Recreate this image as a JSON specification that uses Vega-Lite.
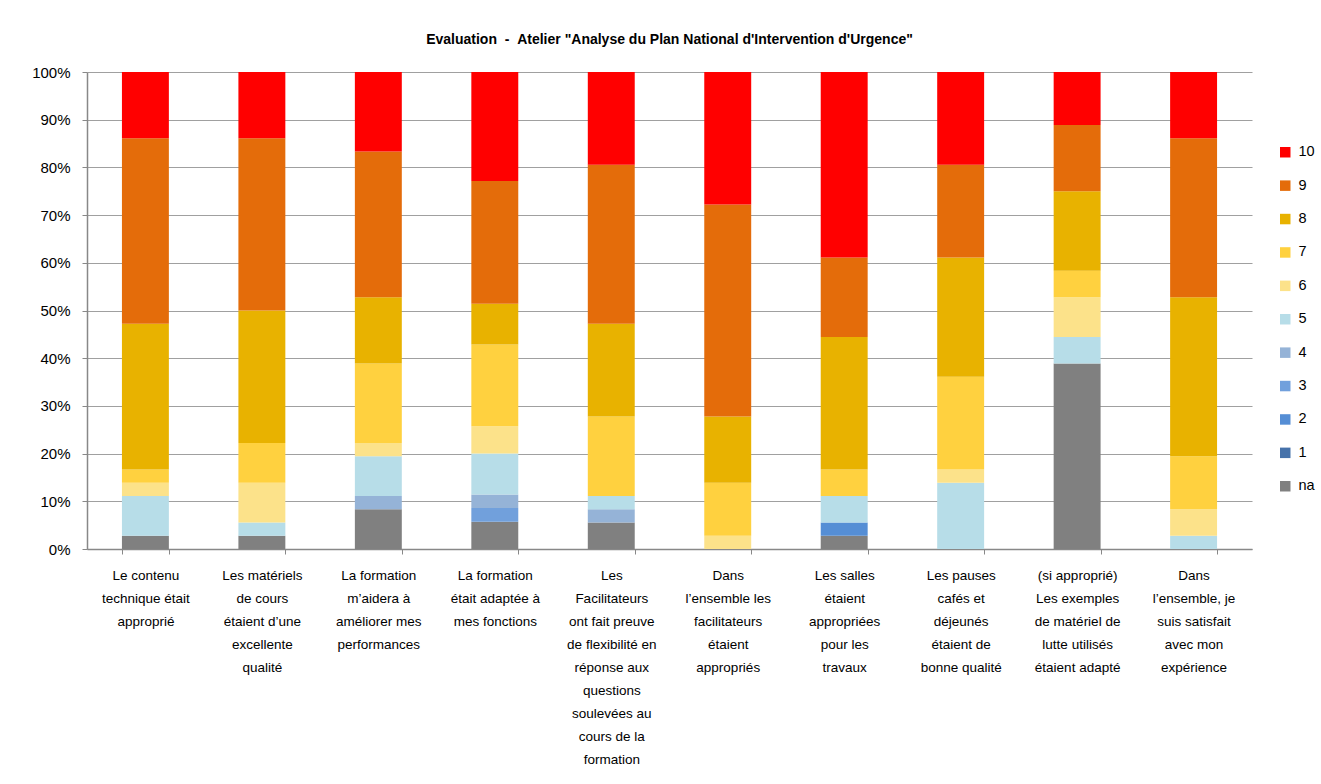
{
  "$schema": "https://vega.github.io/schema/vega-lite/v6.json",
  "autosize": {"type": "none"},
  "width": 1165,
  "height": 477,
  "padding": {"left": 87, "top": 72, "right": 69, "bottom": 235},
  "background": "white",
  "config": {
    "view": {"stroke": null},
    "font": "Liberation Sans"
  },
  "title": {
    "text": "Evaluation\u00a0\u00a0-\u00a0\u00a0Atelier \"Analyse du Plan National d'Intervention d'Urgence\"",
    "fontSize": 14,
    "fontWeight": "bold",
    "color": "#000000",
    "anchor": "middle",
    "offset": 18
  },
  "data": {
    "values": [
      {"q": "Le contenu|technique était|approprié", "s": 0, "n": 1},
      {"q": "Le contenu|technique était|approprié", "s": 5, "n": 3},
      {"q": "Le contenu|technique était|approprié", "s": 6, "n": 1},
      {"q": "Le contenu|technique était|approprié", "s": 7, "n": 1},
      {"q": "Le contenu|technique était|approprié", "s": 8, "n": 11},
      {"q": "Le contenu|technique était|approprié", "s": 9, "n": 14},
      {"q": "Le contenu|technique était|approprié", "s": 10, "n": 5},

      {"q": "Les matériels|de cours|étaient d’une|excellente|qualité", "s": 0, "n": 1},
      {"q": "Les matériels|de cours|étaient d’une|excellente|qualité", "s": 5, "n": 1},
      {"q": "Les matériels|de cours|étaient d’une|excellente|qualité", "s": 6, "n": 3},
      {"q": "Les matériels|de cours|étaient d’une|excellente|qualité", "s": 7, "n": 3},
      {"q": "Les matériels|de cours|étaient d’une|excellente|qualité", "s": 8, "n": 10},
      {"q": "Les matériels|de cours|étaient d’une|excellente|qualité", "s": 9, "n": 13},
      {"q": "Les matériels|de cours|étaient d’une|excellente|qualité", "s": 10, "n": 5},

      {"q": "La formation|m’aidera à|améliorer mes|performances", "s": 0, "n": 3},
      {"q": "La formation|m’aidera à|améliorer mes|performances", "s": 4, "n": 1},
      {"q": "La formation|m’aidera à|améliorer mes|performances", "s": 5, "n": 3},
      {"q": "La formation|m’aidera à|améliorer mes|performances", "s": 6, "n": 1},
      {"q": "La formation|m’aidera à|améliorer mes|performances", "s": 7, "n": 6},
      {"q": "La formation|m’aidera à|améliorer mes|performances", "s": 8, "n": 5},
      {"q": "La formation|m’aidera à|améliorer mes|performances", "s": 9, "n": 11},
      {"q": "La formation|m’aidera à|améliorer mes|performances", "s": 10, "n": 6},

      {"q": "La formation|était adaptée à|mes fonctions", "s": 0, "n": 2},
      {"q": "La formation|était adaptée à|mes fonctions", "s": 3, "n": 1},
      {"q": "La formation|était adaptée à|mes fonctions", "s": 4, "n": 1},
      {"q": "La formation|était adaptée à|mes fonctions", "s": 5, "n": 3},
      {"q": "La formation|était adaptée à|mes fonctions", "s": 6, "n": 2},
      {"q": "La formation|était adaptée à|mes fonctions", "s": 7, "n": 6},
      {"q": "La formation|était adaptée à|mes fonctions", "s": 8, "n": 3},
      {"q": "La formation|était adaptée à|mes fonctions", "s": 9, "n": 9},
      {"q": "La formation|était adaptée à|mes fonctions", "s": 10, "n": 8},

      {"q": "Les|Facilitateurs|ont fait preuve|de flexibilité en|réponse aux|questions|soulevées au|cours de la|formation", "s": 0, "n": 2},
      {"q": "Les|Facilitateurs|ont fait preuve|de flexibilité en|réponse aux|questions|soulevées au|cours de la|formation", "s": 4, "n": 1},
      {"q": "Les|Facilitateurs|ont fait preuve|de flexibilité en|réponse aux|questions|soulevées au|cours de la|formation", "s": 5, "n": 1},
      {"q": "Les|Facilitateurs|ont fait preuve|de flexibilité en|réponse aux|questions|soulevées au|cours de la|formation", "s": 7, "n": 6},
      {"q": "Les|Facilitateurs|ont fait preuve|de flexibilité en|réponse aux|questions|soulevées au|cours de la|formation", "s": 8, "n": 7},
      {"q": "Les|Facilitateurs|ont fait preuve|de flexibilité en|réponse aux|questions|soulevées au|cours de la|formation", "s": 9, "n": 12},
      {"q": "Les|Facilitateurs|ont fait preuve|de flexibilité en|réponse aux|questions|soulevées au|cours de la|formation", "s": 10, "n": 7},

      {"q": "Dans|l’ensemble les|facilitateurs|étaient|appropriés", "s": 6, "n": 1},
      {"q": "Dans|l’ensemble les|facilitateurs|étaient|appropriés", "s": 7, "n": 4},
      {"q": "Dans|l’ensemble les|facilitateurs|étaient|appropriés", "s": 8, "n": 5},
      {"q": "Dans|l’ensemble les|facilitateurs|étaient|appropriés", "s": 9, "n": 16},
      {"q": "Dans|l’ensemble les|facilitateurs|étaient|appropriés", "s": 10, "n": 10},

      {"q": "Les salles|étaient|appropriées|pour les|travaux", "s": 0, "n": 1},
      {"q": "Les salles|étaient|appropriées|pour les|travaux", "s": 2, "n": 1},
      {"q": "Les salles|étaient|appropriées|pour les|travaux", "s": 5, "n": 2},
      {"q": "Les salles|étaient|appropriées|pour les|travaux", "s": 7, "n": 2},
      {"q": "Les salles|étaient|appropriées|pour les|travaux", "s": 8, "n": 10},
      {"q": "Les salles|étaient|appropriées|pour les|travaux", "s": 9, "n": 6},
      {"q": "Les salles|étaient|appropriées|pour les|travaux", "s": 10, "n": 14},

      {"q": "Les pauses|cafés et|déjeunés|étaient de|bonne qualité", "s": 5, "n": 5},
      {"q": "Les pauses|cafés et|déjeunés|étaient de|bonne qualité", "s": 6, "n": 1},
      {"q": "Les pauses|cafés et|déjeunés|étaient de|bonne qualité", "s": 7, "n": 7},
      {"q": "Les pauses|cafés et|déjeunés|étaient de|bonne qualité", "s": 8, "n": 9},
      {"q": "Les pauses|cafés et|déjeunés|étaient de|bonne qualité", "s": 9, "n": 7},
      {"q": "Les pauses|cafés et|déjeunés|étaient de|bonne qualité", "s": 10, "n": 7},

      {"q": "(si approprié)|Les exemples|de matériel de|lutte utilisés|étaient adapté", "s": 0, "n": 14},
      {"q": "(si approprié)|Les exemples|de matériel de|lutte utilisés|étaient adapté", "s": 5, "n": 2},
      {"q": "(si approprié)|Les exemples|de matériel de|lutte utilisés|étaient adapté", "s": 6, "n": 3},
      {"q": "(si approprié)|Les exemples|de matériel de|lutte utilisés|étaient adapté", "s": 7, "n": 2},
      {"q": "(si approprié)|Les exemples|de matériel de|lutte utilisés|étaient adapté", "s": 8, "n": 6},
      {"q": "(si approprié)|Les exemples|de matériel de|lutte utilisés|étaient adapté", "s": 9, "n": 5},
      {"q": "(si approprié)|Les exemples|de matériel de|lutte utilisés|étaient adapté", "s": 10, "n": 4},

      {"q": "Dans|l’ensemble, je|suis satisfait|avec mon|expérience", "s": 5, "n": 1},
      {"q": "Dans|l’ensemble, je|suis satisfait|avec mon|expérience", "s": 6, "n": 2},
      {"q": "Dans|l’ensemble, je|suis satisfait|avec mon|expérience", "s": 7, "n": 4},
      {"q": "Dans|l’ensemble, je|suis satisfait|avec mon|expérience", "s": 8, "n": 12},
      {"q": "Dans|l’ensemble, je|suis satisfait|avec mon|expérience", "s": 9, "n": 12},
      {"q": "Dans|l’ensemble, je|suis satisfait|avec mon|expérience", "s": 10, "n": 5}
    ]
  },
  "mark": {"type": "bar"},
  "encoding": {
    "x": {
      "field": "q",
      "type": "nominal",
      "sort": null,
      "scale": {"paddingInner": 0.597, "paddingOuter": 0.3},
      "axis": {
        "title": null,
        "labelAngle": 0,
        "labelExpr": "isValid(datum.value) ? split(datum.value, '|') : ''",
        "labelFontSize": 13.5,
        "labelColor": "#000000",
        "labelLineHeight": 23,
        "labelBaseline": "top",
        "labelPadding": 14,
        "labelLimit": 200,
        "tickBand": "extent",
        "tickSize": 5,
        "tickColor": "#888888",
        "domainColor": "#888888",
        "domainWidth": 1.5,
        "grid": false
      }
    },
    "y": {
      "field": "n",
      "type": "quantitative",
      "stack": "normalize",
      "scale": {"domain": [0, 1]},
      "axis": {
        "title": null,
        "format": ".0%",
        "values": [0, 0.1, 0.2, 0.3, 0.4, 0.5, 0.6, 0.7, 0.8, 0.9, 1],
        "labelFontSize": 15,
        "labelColor": "#000000",
        "labelPadding": 12,
        "tickSize": 5,
        "tickColor": "#888888",
        "domainColor": "#888888",
        "domainWidth": 1.5,
        "grid": true,
        "gridColor": "#a0a0a0",
        "gridWidth": 1.2,
        "gridOpacity": 1
      }
    },
    "color": {
      "field": "s",
      "type": "ordinal",
      "scale": {
        "domain": [10, 9, 8, 7, 6, 5, 4, 3, 2, 1, 0],
        "range": ["#FF0000", "#E46C0A", "#E8B200", "#FFD13F", "#FCE28A", "#B7DDE8", "#95B3D7", "#71A0DC", "#558ED5", "#4672AA", "#808080"]
      },
      "legend": {
        "title": null,
        "orient": "none",
        "legendX": 1191,
        "legendY": 73,
        "symbolType": "square",
        "symbolSize": 110,
        "symbolStrokeWidth": 0,
        "labelFontSize": 14.5,
        "labelColor": "#000000",
        "labelOffset": 6,
        "rowPadding": 18.4,
        "labelExpr": "datum.value == 0 ? 'na' : datum.label"
      }
    },
    "order": {"field": "s", "type": "quantitative", "sort": "ascending"}
  }
}
